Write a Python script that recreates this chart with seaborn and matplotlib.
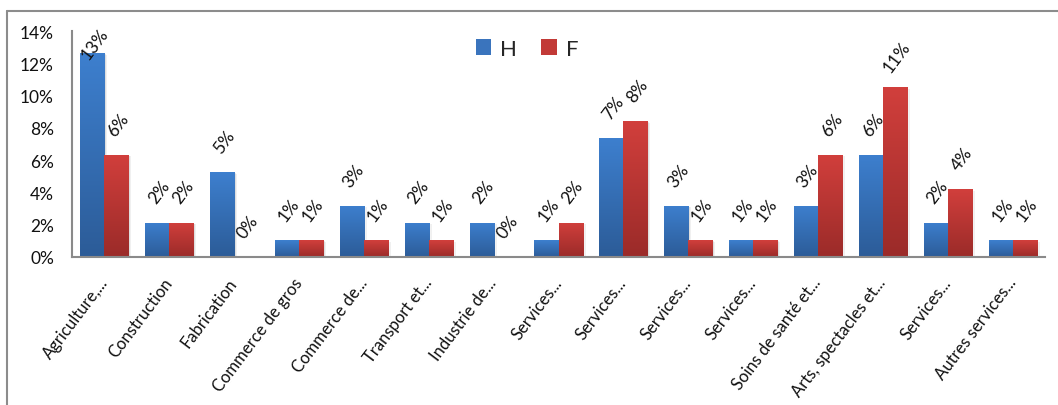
import numpy as np
import pandas as pd
import matplotlib
matplotlib.use("Agg")
import matplotlib.pyplot as plt
import seaborn as sns
from matplotlib.colors import LinearSegmentedColormap
from matplotlib.transforms import ScaledTranslation
from matplotlib.lines import Line2D
from matplotlib.patches import Rectangle, Patch

# Secteurs d'activité (libellés tronqués comme sur l'axe)
secteurs = [
    "Agriculture,...", "Construction", "Fabrication", "Commerce de gros",
    "Commerce de...", "Transport et...", "Industrie de...", "Services...",
    "Services...", "Services...", "Services...", "Soins de santé et...",
    "Arts, spectacles et...", "Services...", "Autres services...",
]
# Part des effectifs (%) par sexe
hommes = [12.63, 2.11, 5.26, 1.05, 3.16, 2.11, 2.11, 1.05, 7.37, 3.16, 1.05, 3.16, 6.32, 2.11, 1.05]
femmes = [6.32, 2.11, 0.00, 1.05, 1.05, 1.05, 0.00, 2.11, 8.42, 1.05, 1.05, 6.32, 10.53, 4.21, 1.05]
sexes = ["H", "F"]
y_ticks = [0, 2, 4, 6, 8, 10, 12, 14]

FONT = ["Lato", "DejaVu Sans"]
sns.set_style("white")
plt.rcParams["font.family"] = FONT

W, H, DPI = 1058, 406, 100
fig = plt.figure(figsize=(W / DPI, H / DPI), dpi=DPI)
ax = fig.add_axes([72 / W, 148 / H, (1045 - 72) / W, (258 - 32) / H])

n = len(secteurs)
df = pd.DataFrame({
    "pos": list(range(n)) * 2,
    "sexe": ["H"] * n + ["F"] * n,
    "valeur": hommes + femmes,
})

base = {"H": "#3a74bd", "F": "#c23a37"}
grad = {
    "H": ("#3d7fce", "#2c5c98"),
    "F": ("#d13f3c", "#9b2b29"),
}

sns.barplot(data=df, x="pos", y="valeur", hue="sexe", order=list(range(n)),
            hue_order=sexes, palette=base, width=0.74, gap=0, saturation=1,
            legend=False, ax=ax, zorder=3)

ymax = y_ticks[-1]
ax.set_ylim(0, ymax)
ax.set_xlim(-0.5, n - 0.5)

# vertical gradient fill + soft drop shadow on each bar
for sexe, cont in zip(sexes, ax.containers):
    top_c, bot_c = grad[sexe]
    cmap = LinearSegmentedColormap.from_list(sexe, [bot_c, top_c])
    for bar in cont:
        x0, w, h = bar.get_x(), bar.get_width(), bar.get_height()
        if h <= 0:
            continue
        for k, a in ((1.5, 0.10), (3.0, 0.06)):
            sh = Rectangle((x0, 0), w, h, facecolor="black", edgecolor="none",
                           alpha=a, zorder=2,
                           transform=ax.transData + ScaledTranslation(k / DPI, -k / 2 / DPI, fig.dpi_scale_trans))
            ax.add_patch(sh)
        img = ax.imshow(np.linspace(0, 1, 64).reshape(-1, 1), cmap=cmap,
                        extent=[x0, x0 + w, 0, h], origin="lower",
                        aspect="auto", zorder=3.5, interpolation="bilinear")
        img.set_clip_path(bar)

ax.set_ylim(0, ymax)
ax.set_xlim(-0.5, n - 0.5)

# value labels above bars
bbox = ax.get_position()
px_per_unit = bbox.height * H / ymax
for sexe, cont in zip(sexes, ax.containers):
    for bar in cont:
        v = bar.get_height()
        cx = bar.get_x() + bar.get_width() / 2
        room = (ymax - v) * px_per_unit - 12
        dy = min(31, room)
        ax.annotate(f"{v:.0f}%", xy=(cx, v), xytext=(2 * 72 / DPI, dy * 72 / DPI),
                    textcoords="offset points", rotation=53, rotation_mode="anchor",
                    ha="center", va="center", fontsize=12.5, color="#111111",
                    family=FONT, zorder=5, annotation_clip=False)

ax.set_yticks(y_ticks)
ax.set_yticklabels([f"{t}%" for t in y_ticks], fontsize=12.5, color="#111111")
ax.set_xticks(range(n))
ax.set_xticklabels(secteurs, fontsize=12, color="#111111", rotation=53,
                   ha="right", va="center", rotation_mode="anchor")
off = ScaledTranslation(5 / DPI, 0, fig.dpi_scale_trans)
for lab in ax.get_xticklabels():
    lab.set_transform(lab.get_transform() + off)
ax.tick_params(axis="x", length=0, pad=16)
ax.tick_params(axis="y", length=0, pad=13)
ax.set_xlabel("")
ax.set_ylabel("")

for s in ("top", "right"):
    ax.spines[s].set_visible(False)
for s in ("left", "bottom"):
    ax.spines[s].set_color("#8a8a8a")
    ax.spines[s].set_linewidth(1.5)
    ax.spines[s].set_zorder(6)

handles = [Patch(facecolor=base[s], edgecolor="none") for s in sexes]
fig.legend(handles, sexes, loc="center", bbox_to_anchor=(527 / W, 1 - 50 / H),
           ncol=2, frameon=False, fontsize=16, handlelength=0.7, handleheight=0.7,
           handletextpad=0.4, columnspacing=1.1)

# chart-area frame
fig.add_artist(Line2D([7 / W, 1], [1 - 12 / H] * 2, transform=fig.transFigure,
                      color="#8c8c8c", lw=1.5))
fig.add_artist(Line2D([7 / W] * 2, [0, 1 - 12 / H], transform=fig.transFigure,
                      color="#8c8c8c", lw=1.5))

fig.savefig("out.png", dpi=DPI, facecolor="white")
